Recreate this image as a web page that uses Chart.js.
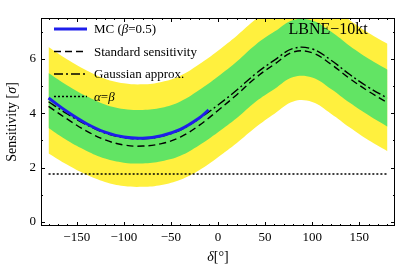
<!DOCTYPE html>
<html>
<head>
<meta charset="utf-8">
<script src="https://cdn.jsdelivr.net/npm/chart.js@4/dist/chart.umd.min.js"></script>
<style>
html, body { margin: 0; padding: 0; background: #fff; }
#wrap { width: 407px; height: 275px; }
</style>
</head>
<body>
<div id="wrap"><canvas id="sensChart"></canvas></div>
<script>
// delta_CP grid (degrees)
const DELTA = [-180, -160, -140, -120, -100, -80, -60, -40, -20, 0, 20, 40, 60, 80, 100, 120, 140, 160, 180];

// Gaussian approximation (dot-dashed) and standard sensitivity (dashed)
const GAUSS    = [4.42, 3.97, 3.58, 3.27, 3.10, 3.06, 3.15, 3.38, 3.80, 4.30, 4.85, 5.45, 5.95, 6.38, 6.36, 5.95, 5.42, 4.95, 4.55];
const STANDARD = [4.25, 3.78, 3.35, 3.02, 2.83, 2.79, 2.88, 3.12, 3.55, 4.10, 4.68, 5.30, 5.80, 6.25, 6.22, 5.80, 5.27, 4.80, 4.38];

// 1 sigma (green) and 2 sigma (yellow) bands
const GREEN_HI  = [5.48, 5.02, 4.63, 4.32, 4.15, 4.12, 4.20, 4.43, 4.85, 5.35, 5.90, 6.52, 7.00, 7.43, 7.41, 7.00, 6.47, 6.00, 5.60];
const GREEN_LO  = [3.45, 2.99, 2.62, 2.33, 2.18, 2.15, 2.23, 2.43, 2.82, 3.30, 3.82, 4.42, 4.89, 5.33, 5.31, 4.89, 4.38, 3.92, 3.50];
const YELLOW_HI = [6.43, 5.97, 5.58, 5.27, 5.10, 5.06, 5.15, 5.38, 5.80, 6.30, 6.85, 7.45, 7.95, 8.38, 8.36, 7.95, 7.42, 6.95, 6.55];
const YELLOW_LO = [2.52, 2.10, 1.74, 1.47, 1.32, 1.29, 1.36, 1.55, 1.90, 2.38, 2.90, 3.48, 3.98, 4.43, 4.41, 3.98, 3.47, 3.00, 2.60];

// Monte Carlo result (beta = 0.5), only computed for delta < 0
const MC_DELTA = [-180, -160, -140, -120, -100, -80, -60, -40, -20, -10];
const MC_SENS  = [4.56, 4.05, 3.62, 3.30, 3.12, 3.08, 3.17, 3.40, 3.82, 4.12];

// alpha = beta level
const ALPHA_BETA = 1.76;

const X_TICKS = [-150, -100, -50, 0, 50, 100, 150];
const Y_TICKS = [0, 2, 4, 6];

const SERIF = '"Liberation Serif", "DejaVu Serif", serif';
const YELLOW = 'rgb(255, 240, 62)';
const GREEN = 'rgb(98, 228, 100)';
const BLUE = 'rgb(30, 30, 235)';

const pts = (xs, ys) => xs.map((v, i) => ({ x: v, y: ys[i] }));

// draw a run of text pieces, some italic
function drawRich(ctx, parts, x, y, size) {
    let cx = x;
    parts.forEach(p => {
        ctx.font = (p.it ? 'italic ' : '') + size + 'px ' + SERIF;
        ctx.fillText(p.t, cx, y);
        cx += ctx.measureText(p.t).width;
    });
    return cx;
}
function richWidth(ctx, parts, size) {
    let w = 0;
    parts.forEach(p => {
        ctx.font = (p.it ? 'italic ' : '') + size + 'px ' + SERIF;
        w += ctx.measureText(p.t).width;
    });
    return w;
}

const decor = {
    id: 'decor',
    afterDraw(chart) {
        const { ctx, chartArea: a, scales: { x, y } } = chart;
        ctx.save();
        ctx.strokeStyle = '#000';
        ctx.lineWidth = 1;
        ctx.setLineDash([]);

        // frame
        ctx.strokeRect(a.left + 0.5, a.top + 0.5, a.right - a.left - 1, a.bottom - a.top - 1);

        // ticks inside the frame, all four sides
        ctx.beginPath();
        for (let v = -180; v <= 180; v += 10) {
            const px = Math.round(x.getPixelForValue(v)) + 0.5;
            const len = v % 50 === 0 ? 4 : 2;
            ctx.moveTo(px, a.bottom); ctx.lineTo(px, a.bottom - len);
            ctx.moveTo(px, a.top); ctx.lineTo(px, a.top + len);
        }
        for (let v = 0; v <= 7; v += 1) {
            const py = Math.round(y.getPixelForValue(v)) + 0.5;
            const len = v % 2 === 0 ? 4 : 2;
            ctx.moveTo(a.left, py); ctx.lineTo(a.left + len, py);
            ctx.moveTo(a.right, py); ctx.lineTo(a.right - len, py);
        }
        ctx.stroke();

        ctx.fillStyle = '#000';
        ctx.textBaseline = 'middle';

        // legend
        const items = [
            { color: BLUE, width: 3, dash: [], parts: [{ t: 'MC (' }, { t: 'β', it: true }, { t: '=0.5)' }] },
            { color: '#000', width: 1.4, dash: [7, 4], parts: [{ t: 'Standard sensitivity' }] },
            { color: '#000', width: 1.4, dash: [9, 3, 2, 3], parts: [{ t: 'Gaussian approx.' }] },
            { color: '#000', width: 1.4, dash: [2, 2], parts: [{ t: 'α', it: true }, { t: '=' }, { t: 'β', it: true }] }
        ];
        const lx0 = a.left + 13, lx1 = a.left + 46, tx = a.left + 53;
        items.forEach((it, i) => {
            const ly = a.top + 11 + i * 22.5;
            ctx.strokeStyle = it.color;
            ctx.lineWidth = it.width;
            ctx.setLineDash(it.dash);
            ctx.beginPath();
            ctx.moveTo(lx0, ly); ctx.lineTo(lx1, ly);
            ctx.stroke();
            ctx.setLineDash([]);
            drawRich(ctx, it.parts, tx, ly + 1, 13);
        });

        // experiment label
        ctx.textAlign = 'center';
        ctx.font = '16px ' + SERIF;
        ctx.fillText('LBNE\u221210kt', x.getPixelForValue(117), a.top + 12);

        // x title
        ctx.textAlign = 'left';
        const xt = [{ t: 'δ', it: true }, { t: '[°]' }];
        const xw = richWidth(ctx, xt, 14);
        drawRich(ctx, xt, (a.left + a.right) / 2 - xw / 2, 257, 14);

        // y title
        const yt = [{ t: 'Sensitivity [' }, { t: 'σ', it: true }, { t: ']' }];
        const yw = richWidth(ctx, yt, 14);
        ctx.translate(12, (a.top + a.bottom) / 2);
        ctx.rotate(-Math.PI / 2);
        drawRich(ctx, yt, -yw / 2, 0, 14);
        ctx.restore();
    }
};

const lineBase = { pointRadius: 0, fill: false, tension: 0.4 };

new Chart(document.getElementById('sensChart'), {
    type: 'line',
    data: {
        datasets: [
            { ...lineBase, data: pts(DELTA, YELLOW_HI), borderWidth: 0, backgroundColor: YELLOW, fill: '+1', order: 10 },
            { ...lineBase, data: pts(DELTA, YELLOW_LO), borderWidth: 0, order: 10 },
            { ...lineBase, data: pts(DELTA, GREEN_HI), borderWidth: 0, backgroundColor: GREEN, fill: '+1', order: 9 },
            { ...lineBase, data: pts(DELTA, GREEN_LO), borderWidth: 0, order: 9 },
            { ...lineBase, data: pts([-180, 180], [ALPHA_BETA, ALPHA_BETA]), borderColor: '#000', borderWidth: 1.4, borderDash: [2, 2], order: 5 },
            { ...lineBase, data: pts(DELTA, STANDARD), borderColor: '#000', borderWidth: 1.4, borderDash: [7, 4], order: 4 },
            { ...lineBase, data: pts(DELTA, GAUSS), borderColor: '#000', borderWidth: 1.4, borderDash: [9, 3, 2, 3], order: 3 },
            { ...lineBase, data: pts(MC_DELTA, MC_SENS), borderColor: BLUE, borderWidth: 3, order: 1 }
        ]
    },
    options: {
        responsive: true,
        maintainAspectRatio: false,
        animation: false,
        layout: { padding: { top: 18, right: 12, left: 0, bottom: 0 } },
        plugins: { legend: { display: false }, tooltip: { enabled: false } },
        scales: {
            x: {
                type: 'linear', min: -188, max: 188,
                grid: { display: false, drawTicks: false },
                border: { display: false },
                afterBuildTicks: s => { s.ticks = X_TICKS.map(v => ({ value: v })); },
                afterFit: s => { s.height = 49; },
                ticks: {
                    padding: 4, color: '#000', maxRotation: 0,
                    font: { family: SERIF, size: 13 },
                    callback: v => v < 0 ? '\u2212' + Math.abs(v) : String(v)
                }
            },
            y: {
                type: 'linear', min: -0.15, max: 7.5,
                grid: { display: false, drawTicks: false },
                border: { display: false },
                afterBuildTicks: s => { s.ticks = Y_TICKS.map(v => ({ value: v })); },
                afterFit: s => { s.width = 41; },
                ticks: {
                    padding: 5, color: '#000',
                    font: { family: SERIF, size: 13 }
                }
            }
        }
    },
    plugins: [decor]
});
</script>
</body>
</html>
